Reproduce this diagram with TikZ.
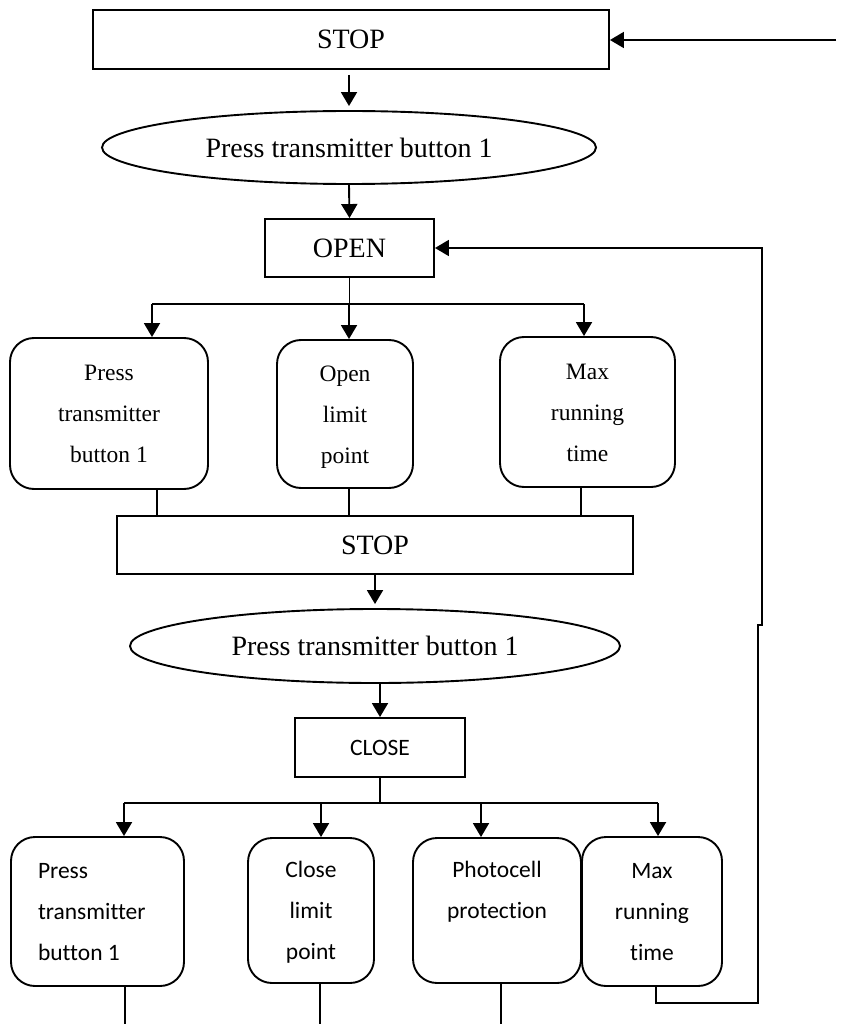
\documentclass[tikz,border=0pt]{standalone}
\usepackage{fontspec}
\setmainfont{Liberation Serif}
\newfontfamily\calfont[Ligatures=NoCommon]{Carlito}
\usetikzlibrary{shapes.geometric,arrows.meta}
\newcommand\tlines[2]{\raisebox{#1}{\begin{tabular}{@{}c@{}}#2\end{tabular}}}
\newcommand\llines[2]{\raisebox{#1}{\begin{tabular}{@{}p{119pt}@{}}#2\end{tabular}}}
\begin{document}
\begin{tikzpicture}[x=1pt,y=-1pt,
  ln/.style={line width=1.9pt},
  arr/.style={ln,-{Triangle[width=16pt,length=14pt]}},
  box/.style={draw, line width=1.9pt, rectangle, inner sep=0pt, font=\fontsize{28}{34}\selectfont},
  rbox/.style={draw, line width=1.9pt, rectangle, rounded corners=24pt, inner sep=0pt, font=\fontsize{23.5}{41}\selectfont},
  cbox/.style={rbox, font=\calfont\fontsize{23.5}{41}\selectfont},
  ell/.style={draw, line width=1.9pt, ellipse, inner sep=0pt, font=\fontsize{28}{34}\selectfont}]
\useasboundingbox (0,0) rectangle (841,1024);
% nodes
\node[box, minimum width=516pt, minimum height=59pt] (stop1) at (351,39.5) {\raisebox{-3pt}{STOP}};
\node[ell, minimum width=494pt, minimum height=73pt] (ell1) at (349,147.5) {\raisebox{-6pt}{Press transmitter button 1}};
\node[box, minimum width=169pt, minimum height=58pt] (open) at (349.5,248) {OPEN};
\node[rbox, minimum width=198pt, minimum height=151pt] (b1) at (109,413.5) {\tlines{-5pt}{Press\\transmitter\\button 1}};
\node[rbox, minimum width=136pt, minimum height=148pt] (b2) at (345,414) {\tlines{-5pt}{Open\\limit\\point}};
\node[rbox, minimum width=175pt, minimum height=150pt] (b3) at (587.5,412) {\tlines{-5pt}{Max\\running\\time}};
\node[box, minimum width=516pt, minimum height=58pt] (stop2) at (375,545) {STOP};
\node[ell, minimum width=490pt, minimum height=74pt] (ell2) at (375,646) {\raisebox{-5pt}{Press transmitter button 1}};
\node[box, font=\calfont\fontsize{23.5}{28}\selectfont, minimum width=170pt, minimum height=59pt] (close) at (380,747.5) {CLOSE};
\node[cbox, minimum width=173pt, minimum height=149pt] (c1) at (97.5,911.5) {\llines{-6pt}{Press\\transmitter\\button 1}};
\node[cbox, minimum width=126pt, minimum height=145pt] (c2) at (311,910.5) {\tlines{-6pt}{Close\\limit\\point}};
\node[cbox, minimum width=168pt, minimum height=145pt] (c3) at (497,910.5) {\tlines{-6pt}{Photocell\\protection\\\mbox{}}};
\node[cbox, minimum width=140pt, minimum height=149pt] (c4) at (652,911.5) {\tlines{-6pt}{Max\\running\\time}};
% coordinates
\coordinate (rin) at (836,40);
\coordinate (j1) at (349,304);
\coordinate (j1l) at (152,304);
\coordinate (j1r) at (584,304);
\coordinate (k1) at (124,803);
\coordinate (k4) at (658,803);
\coordinate (bot) at (0,1024);
\coordinate (lpA) at (758,1003);
\coordinate (lpC) at (762,625);
% connectors
\draw[arr] (rin) -- (rin -| stop1.east);
\draw[arr, shorten <=5pt, shorten >=4pt] (stop1.south -| ell1.north) -- (ell1.north);
\draw[arr] (ell1.south) -- (open.north);
\draw[ln] (open.south) -- (open.south |- j1);
\draw[ln] (j1l) -- (j1r);
\draw[arr] (j1l) -- (j1l |- b1.north);
\draw[arr] (j1) -- (j1 |- b2.north);
\draw[arr] (j1r) -- (j1r |- b3.north);
\draw[ln] ([xshift=48pt]b1.south) -- ([xshift=48pt]b1.south |- stop2.north);
\draw[ln] ([xshift=4pt]b2.south) -- ([xshift=4pt]b2.south |- stop2.north);
\draw[ln] ([xshift=-6.5pt]b3.south) -- ([xshift=-6.5pt]b3.south |- stop2.north);
\draw[arr, shorten >=4pt] (stop2.south) -- (ell2.north);
\draw[arr] (ell2.south -| close.north) -- (close.north);
\draw[ln] (close.south) -- (close.south |- k1);
\draw[ln] (k1) -- (k4);
\draw[arr] (k1) -- (k1 |- c1.north);
\draw[arr] ([xshift=10pt]c2.north |- k1) -- ([xshift=10pt]c2.north);
\draw[arr] ([xshift=-16pt]c3.north |- k1) -- ([xshift=-16pt]c3.north);
\draw[arr] (k4) -- (k4 |- c4.north);
\draw[ln] ([xshift=27.5pt]c1.south) -- ([xshift=27.5pt]c1.south |- bot);
\draw[ln] ([xshift=9pt]c2.south) -- ([xshift=9pt]c2.south |- bot);
\draw[ln] ([xshift=4pt]c3.south) -- ([xshift=4pt]c3.south |- bot);
\draw[arr] ([xshift=4pt]c4.south) |- (lpA) -- (lpA |- lpC) -- (lpC) -- (lpC |- open.east) -- (open.east);
\end{tikzpicture}
\end{document}
